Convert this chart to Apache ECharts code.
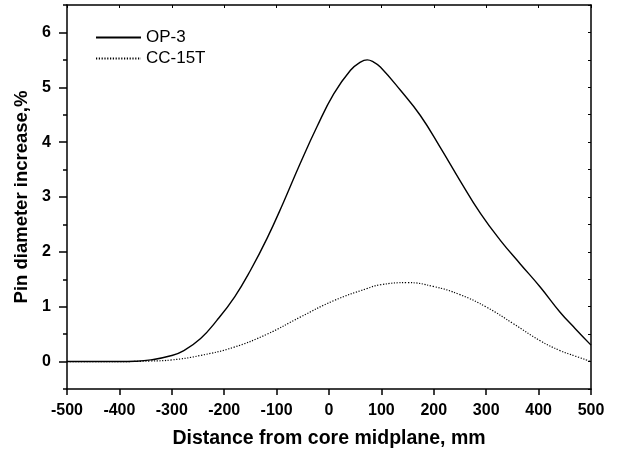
<!DOCTYPE html>
<html>
<head>
<meta charset="utf-8">
<script src="https://cdn.jsdelivr.net/npm/echarts@6/dist/echarts.min.js"></script>
<style>html,body{margin:0;padding:0;background:#fff;}#c{width:617px;height:454px;}</style>
</head>
<body>
<div id="c"></div>
<script>
const op3X = [-500,-450,-400,-370,-340,-300,-277,-245,-214,-180,-150,-118,-87,-55,-23,9,41,60,73,85,98,136,174,212,250,289,327,365,403,441,470,500];
const op3Y = [0,0,0,0.005,0.03,0.11,0.2,0.42,0.75,1.18,1.66,2.25,2.9,3.61,4.28,4.88,5.31,5.46,5.5,5.46,5.37,4.95,4.49,3.91,3.3,2.7,2.21,1.78,1.36,0.9,0.6,0.3];
const ccX = [-500,-450,-400,-341,-300,-246,-182,-118,-55,9,72,98,149,199,250,301,352,403,441,470,500];
const ccY = [0,0,0,0.01,0.03,0.11,0.26,0.5,0.81,1.11,1.33,1.4,1.44,1.37,1.22,0.99,0.69,0.38,0.2,0.1,0];
const xTicks = [-500,-400,-300,-200,-100,0,100,200,300,400,500];
const yMajor = [0,1,2,3,4,5,6];
const yMinor = [-0.5,0.5,1.5,2.5,3.5,4.5,5.5,6.5];
const seriesNames = ['OP-3','CC-15T'];

const zip = (xs, ys) => xs.map((x, i) => [x, ys[i]]);
const font = 'Liberation Sans, Arial, sans-serif';
const gridPos = {left: 67, right: 26, top: 5, bottom: 65, containLabel: false, outerBoundsMode: 'none'};

const chart = echarts.init(document.getElementById('c'), null, {renderer: 'canvas'});
chart.setOption({
  animation: false,
  backgroundColor: '#fff',
  grid: [Object.assign({}, gridPos), Object.assign({}, gridPos)],
  legend: {
    data: seriesNames,
    orient: 'vertical',
    left: 90, top: 24,
    itemWidth: 45, itemHeight: 14, itemGap: 4,
    itemStyle: {opacity: 0},
    textStyle: {fontFamily: font, fontSize: 17, color: '#000'}
  },
  xAxis: [
    {
      gridIndex: 0, type: 'value', position: 'bottom',
      min: -500, max: 500, interval: 100,
      name: 'Distance from core midplane, mm', nameLocation: 'middle', nameGap: 40,
      nameTextStyle: {fontFamily: font, fontSize: 19.5, fontWeight: 'bold', color: '#000'},
      axisLine: {onZero: false, lineStyle: {color: '#000', width: 1.5}},
      axisTick: {inside: false, length: 6, lineStyle: {color: '#000', width: 1.5}, customValues: xTicks},
      axisLabel: {fontFamily: font, fontSize: 16, fontWeight: 'bold', color: '#000', margin: 14, customValues: xTicks, formatter: v => String(v)},
      splitLine: {show: false}
    },
    {
      gridIndex: 0, type: 'value', position: 'top',
      min: -500, max: 500, interval: 100,
      axisLine: {onZero: false, lineStyle: {color: '#000', width: 1.5}},
      axisTick: {inside: true, length: 3, lineStyle: {color: '#000', width: 1}},
      axisLabel: {show: false},
      splitLine: {show: false}
    },
    {
      gridIndex: 1, type: 'value', show: false, min: -500, max: 500,
      axisLine: {onZero: false}
    }
  ],
  yAxis: [
    {
      gridIndex: 0, type: 'value', position: 'left',
      min: -0.5, max: 6.5, interval: 0.5,
      name: 'Pin diameter increase,%', nameLocation: 'middle', nameGap: 31, nameRotate: 90,
      nameTextStyle: {fontFamily: font, fontSize: 18.5, fontWeight: 'bold', color: '#000'},
      axisLine: {show: true, onZero: false, lineStyle: {color: '#000', width: 1.5}},
      axisTick: {show: true, inside: false, length: 8, lineStyle: {color: '#000', width: 1.5}, customValues: yMajor},
      axisLabel: {fontFamily: font, fontSize: 16, fontWeight: 'bold', color: '#000', margin: 16, customValues: yMajor, formatter: v => String(v)},
      splitLine: {show: false}
    },
    {
      gridIndex: 0, type: 'value', position: 'right',
      min: -0.5, max: 6.5, interval: 0.5,
      axisLine: {show: true, onZero: false, lineStyle: {color: '#000', width: 1.5}},
      axisTick: {show: true, inside: true, length: 3, lineStyle: {color: '#000', width: 1}},
      axisLabel: {show: false},
      splitLine: {show: false}
    },
    {
      gridIndex: 1, type: 'value', position: 'left',
      min: -0.5, max: 6.5, interval: 0.5,
      axisLine: {show: false, onZero: false},
      axisTick: {show: true, inside: false, length: 4, lineStyle: {color: '#000', width: 1.5}, customValues: yMinor},
      axisLabel: {show: false},
      splitLine: {show: false}
    }
  ],
  series: [
    {
      name: seriesNames[0], type: 'line', xAxisIndex: 0, yAxisIndex: 0,
      data: zip(op3X, op3Y), smooth: 0.45, symbol: 'none',
      lineStyle: {color: '#000', width: 1.4}, itemStyle: {color: '#000'}
    },
    {
      name: seriesNames[1], type: 'line', xAxisIndex: 0, yAxisIndex: 0,
      data: zip(ccX, ccY), smooth: 0.45, symbol: 'none',
      lineStyle: {color: '#000', width: 1.2, type: [1.2, 1.6]}, itemStyle: {color: '#000'}
    }
  ]
});
</script>
</body>
</html>
